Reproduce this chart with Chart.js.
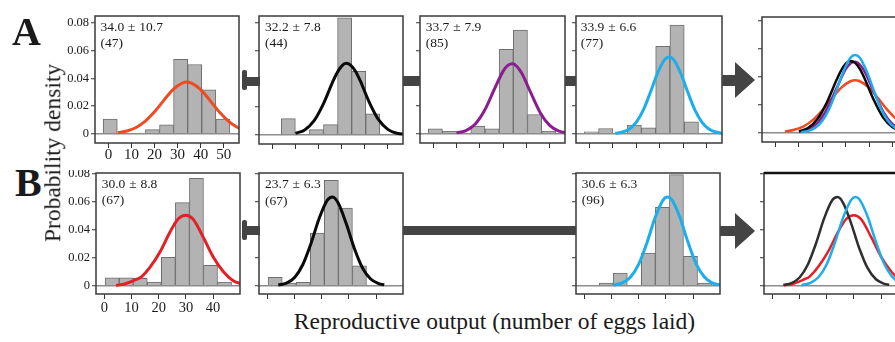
<!DOCTYPE html>
<html>
<head>
<meta charset="utf-8">
<script src="https://cdn.jsdelivr.net/npm/chart.js@4.4.1/dist/chart.umd.min.js"></script>
<style>
  html, body { margin: 0; padding: 0; background: #fff; }
  #fig { position: relative; width: 895px; height: 342px; overflow: hidden; font-family: 'Liberation Serif', serif; color: #1a1a1a; }
  .panel { position: absolute; }
  .stat { position: absolute; font-size: 13.5px; line-height: 16.5px; word-spacing: 0.5px; white-space: nowrap; }
  .conn { position: absolute; background: #444; }
  .cap { position: absolute; background: #444; border-radius: 2px; }
  .head { position: absolute; width: 0; height: 0; border-style: solid; border-color: transparent transparent transparent #444; }
  .letter { position: absolute; font-weight: bold; font-size: 40px; line-height: 40px; }
  .axtitle { position: absolute; font-size: 23.5px; line-height: 23.5px; white-space: nowrap; }
</style>
</head>
<body>
<div id="fig"></div>
<script>
// histogram bins (bin centres) and bar heights
const binCentersA = [0.8, 6.9, 13.0, 19.1, 25.2, 31.3, 37.4, 43.5, 49.6];
const histA1 = [0.0106, 0, 0, 0.0029, 0.0065, 0.0537, 0.0500, 0.0317, 0.0106];
const histA2 = [0, 0.0115, 0, 0.0036, 0.0072, 0.0836, 0.0454, 0.0150, 0];
const histA3 = [0.0036, 0.0017, 0, 0.0055, 0.0036, 0.0609, 0.0748, 0.0139, 0.0017];
const histA4 = [0.0014, 0.0038, 0, 0.0062, 0.0043, 0.0631, 0.0785, 0.0086, 0];

const binCentersB = [2.85, 8.02, 13.19, 18.36, 23.53, 28.70, 33.87, 39.04, 44.21];
const histB1 = [0.0057, 0.0057, 0.0052, 0.0026, 0.0202, 0.0593, 0.0767, 0.0145, 0.0026];
const histB2 = [0.0060, 0.0019, 0.0024, 0.0376, 0.0752, 0.0555, 0.0143, 0, 0];
const histB4 = [0, 0.0019, 0.0090, 0, 0.0233, 0.0560, 0.0793, 0.0210, 0.0019];

// fitted density curves
const curveA1X = [4, 8, 12, 16, 20, 24, 28, 32, 34, 36, 40, 44, 48, 52, 56, 60];
const curveA1Y = [0.0007, 0.0020, 0.0045, 0.0091, 0.0158, 0.0241, 0.0319, 0.0366, 0.0373, 0.0366, 0.0319, 0.0241, 0.0158, 0.0091, 0.0045, 0.0020];
const curveA2X = [10, 14, 18, 22, 26, 28, 30, 32, 34, 36, 38, 42, 46, 50, 54, 58];
const curveA2Y = [0.0009, 0.0034, 0.0098, 0.0217, 0.0373, 0.0442, 0.0491, 0.0511, 0.0497, 0.0454, 0.0388, 0.0232, 0.0107, 0.0038, 0.0010, 0.0002];
const curveA3X = [10, 14, 18, 22, 26, 30, 32, 34, 36, 38, 42, 46, 50, 54, 58];
const curveA3Y = [0.0006, 0.0023, 0.0070, 0.0169, 0.0314, 0.0452, 0.0493, 0.0505, 0.0484, 0.0436, 0.0291, 0.0150, 0.0060, 0.0019, 0.0005];
const curveA4X = [11, 14, 17, 20, 23, 26, 29, 32, 34, 36, 39, 42, 45, 48, 51, 54, 57];
const curveA4Y = [0.0003, 0.0012, 0.0034, 0.0084, 0.0172, 0.0299, 0.0435, 0.0533, 0.0554, 0.0533, 0.0435, 0.0299, 0.0172, 0.0084, 0.0034, 0.0012, 0.0003];

const curveB1X = [4.3, 8, 12, 13.5, 16.8, 20.5, 24.2, 27.2, 30, 32.7, 36.4, 40, 43.8, 47.4, 50, 53];
const curveB1Y = [0.0002, 0.0016, 0.0048, 0.0062, 0.0133, 0.0243, 0.0386, 0.0478, 0.0503, 0.0474, 0.0345, 0.0207, 0.0100, 0.0036, 0.0016, 0.0006];
const curveB2X = [4, 7, 10, 13, 16, 19, 22, 24, 26, 29, 32, 35, 38, 41, 43];
const curveB2Y = [0.0005, 0.0019, 0.0059, 0.0150, 0.0300, 0.0479, 0.0610, 0.0633, 0.0592, 0.0444, 0.0266, 0.0127, 0.0048, 0.0015, 0.0006];
const curveB4X = [10.7, 14, 17, 20, 23, 26, 29, 30.6, 32, 35, 38, 41, 44, 47, 50, 53];
const curveB4Y = [0.0004, 0.0020, 0.0062, 0.0154, 0.0306, 0.0485, 0.0613, 0.0633, 0.0618, 0.0496, 0.0318, 0.0162, 0.0066, 0.0021, 0.0006, 0.0002];

// tick values
const xTicksA = [0, 10, 20, 30, 40, 50];
const xTicksB = [0, 10, 20, 30, 40];
const yTicks = [0, 0.02, 0.04, 0.06, 0.08];

const fig = document.getElementById('fig');

const boxPlugin = {
    id: 'box',
    afterDraw(chart) {
        const a = chart.chartArea, ctx = chart.ctx;
        const o = chart.options.plugins.box || {};
        ctx.save();
        ctx.strokeStyle = '#3a3a3a';
        ctx.lineWidth = 1.5;
        ctx.strokeRect(a.left, a.top, a.right - a.left, a.bottom - a.top);
        if (o.topWidth) {
            ctx.lineWidth = o.topWidth;
            ctx.strokeStyle = '#111';
            ctx.beginPath();
            ctx.moveTo(a.left, a.top);
            ctx.lineTo(a.right, a.top);
            ctx.stroke();
        }
        ctx.restore();
    }
};

function makePanel(box, o) {
    const L = o.yLabels ? 40 : 8, B = o.xLabels ? 26 : 8, T = 3, R = 3;
    const wrap = document.createElement('div');
    wrap.className = 'panel';
    wrap.style.left = (box[0] - L) + 'px';
    wrap.style.top = (box[1] - T) + 'px';
    const cv = document.createElement('canvas');
    cv.width = box[2] + L + R;
    cv.height = box[3] + T + B;
    wrap.appendChild(cv);
    fig.appendChild(wrap);

    const datasets = [];
    o.curves.forEach((c, i) => {
        datasets.push({
            type: 'line',
            data: c.x.map((x, k) => ({ x: x, y: c.y[k] })),
            borderColor: c.color,
            borderWidth: c.w,
            pointRadius: 0,
            fill: false,
            cubicInterpolationMode: 'monotone',
            order: o.curves.length - i
        });
    });
    if (o.bars) {
        datasets.push({
            type: 'bar',
            data: o.bars.x.map((x, k) => ({ x: x, y: o.bars.y[k] })),
            backgroundColor: '#b3b3b3',
            borderColor: '#6e6e6e',
            borderWidth: 1,
            barPercentage: 1,
            categoryPercentage: 1,
            order: 10
        });
    }

    new Chart(cv, {
        type: 'line',
        data: { datasets: datasets },
        plugins: [boxPlugin],
        options: {
            responsive: false,
            animation: false,
            devicePixelRatio: 1,
            layout: { padding: { top: T, right: R, left: 0, bottom: 0 } },
            plugins: {
                legend: { display: false },
                tooltip: { enabled: false },
                box: { topWidth: o.topWidth || 0 }
            },
            scales: {
                x: {
                    type: 'linear', min: o.xMin, max: o.xMax, offset: false,
                    afterBuildTicks: s => { s.ticks = o.xTicks.map(v => ({ value: v })); },
                    afterFit: s => { s.height = B; s.paddingLeft = 0; s.paddingRight = 0; },
                    border: { display: false },
                    grid: { drawOnChartArea: false, offset: false, tickLength: 5, tickColor: '#333', tickWidth: 1 },
                    ticks: {
                        display: !!o.xLabels, autoSkip: false, maxRotation: 0, minRotation: 0,
                        padding: o.xPad || 0, color: '#1a1a1a',
                        font: { family: 'Liberation Serif', size: o.xFont || 15, lineHeight: 1 }
                    }
                },
                y: {
                    type: 'linear', min: o.yMin, max: o.yMax,
                    afterBuildTicks: s => { s.ticks = yTicks.map(v => ({ value: v })); },
                    afterFit: s => { s.width = L; s.paddingTop = 0; s.paddingBottom = 0; },
                    border: { display: false },
                    grid: {
                        color: c => (c.tick && c.tick.value === 0) ? '#8c8c8c' : 'rgba(0,0,0,0)',
                        lineWidth: 1.5,
                        tickLength: 4, tickColor: '#333', tickWidth: 1
                    },
                    ticks: {
                        display: !!o.yLabels, padding: 2, color: '#1a1a1a',
                        callback: v => v === 0 ? '0' : v.toFixed(2),
                        font: { family: 'Liberation Serif', size: 12.5 }
                    }
                }
            }
        }
    });
}

const rowA = { xMin: -5.8, xMax: 56.6, yMin: -0.0067, yMax: 0.085, xTicks: xTicksA };
const rowB = { xMin: -3.1, xMax: 49.9, yMin: -0.0059, yMax: 0.0805, xTicks: xTicksB };

const cOrange = '#ef4b23', cPurple = '#8c1d8f', cCyan = '#1caeea', cRed = '#e41f26';

makePanel([95, 16, 144, 127], Object.assign({}, rowA, {
    xLabels: true, yLabels: true, xPad: 0,
    bars: { x: binCentersA, y: histA1 },
    curves: [{ x: curveA1X, y: curveA1Y, color: cOrange, w: 3 }]
}));
makePanel([259, 16, 144, 128], Object.assign({}, rowA, {
    bars: { x: binCentersA, y: histA2 },
    curves: [{ x: curveA2X, y: curveA2Y, color: '#0a0a0a', w: 3 }]
}));
makePanel([420, 16, 145, 127], Object.assign({}, rowA, {
    bars: { x: binCentersA, y: histA3 },
    curves: [{ x: curveA3X, y: curveA3Y, color: cPurple, w: 3 }]
}));
makePanel([576, 16, 146, 127], Object.assign({}, rowA, {
    bars: { x: binCentersA, y: histA4 },
    curves: [{ x: curveA4X, y: curveA4Y, color: cCyan, w: 3 }]
}));
makePanel([762, 17, 146, 125], Object.assign({}, rowA, {
    yMin: -0.0067, yMax: 0.0824,
    curves: [
        { x: curveA1X, y: curveA1Y, color: cOrange, w: 2.5 },
        { x: curveA3X, y: curveA3Y, color: cPurple, w: 2.5 },
        { x: curveA2X, y: curveA2Y, color: '#0a0a0a', w: 2.5 },
        { x: curveA4X, y: curveA4Y, color: cCyan, w: 2.5 }
    ]
}));

makePanel([96, 173, 144, 121], Object.assign({}, rowB, {
    xLabels: true, yLabels: true, xPad: 2, xFont: 14.5,
    bars: { x: binCentersB, y: histB1 },
    curves: [{ x: curveB1X, y: curveB1Y, color: cRed, w: 3 }]
}));
makePanel([259, 173, 144, 121], Object.assign({}, rowB, {
    bars: { x: binCentersB, y: histB2 },
    curves: [{ x: curveB2X, y: curveB2Y, color: '#0a0a0a', w: 3 }]
}));
makePanel([576, 173, 144, 121], Object.assign({}, rowB, {
    bars: { x: binCentersB, y: histB4 },
    curves: [{ x: curveB4X, y: curveB4Y, color: cCyan, w: 3 }]
}));
makePanel([764, 173, 144, 121], Object.assign({}, rowB, {
    topWidth: 2.5,
    curves: [
        { x: curveB1X, y: curveB1Y, color: cRed, w: 2.5 },
        { x: curveB2X, y: curveB2Y, color: '#2e2e2e', w: 2.5 },
        { x: curveB4X, y: curveB4Y, color: cCyan, w: 2.5 }
    ]
}));

// connectors and arrows between panels
function addDiv(cls, css, html) {
    const d = document.createElement('div');
    d.className = cls;
    Object.assign(d.style, css);
    if (html) d.innerHTML = html;
    fig.appendChild(d);
    return d;
}
addDiv('cap', { left: '241.5px', top: '69.5px', width: '5px', height: '20px' });
addDiv('conn', { left: '246px', top: '76.5px', width: '13.5px', height: '9.5px' });
addDiv('conn', { left: '403px', top: '76px', width: '17px', height: '9.5px' });
addDiv('conn', { left: '565px', top: '76px', width: '11px', height: '9.5px' });
addDiv('conn', { left: '722px', top: '75px', width: '14px', height: '10.5px' });
addDiv('head', { left: '735px', top: '62px', borderWidth: '18px 0 18px 20px' });

addDiv('cap', { left: '241.5px', top: '220px', width: '5px', height: '20px' });
addDiv('conn', { left: '246px', top: '225.5px', width: '13.5px', height: '9.5px' });
addDiv('conn', { left: '403px', top: '225.5px', width: '173px', height: '9.5px' });
addDiv('conn', { left: '719.5px', top: '225.5px', width: '16px', height: '10px' });
addDiv('head', { left: '735px', top: '213px', borderWidth: '18px 0 18px 20px' });

// mean ± sd (n) labels
const statLabels = [
    ['34.0 ± 10.7', '(47)', 100.5, 18.8],
    ['32.2 ± 7.8', '(44)', 265, 18.8],
    ['33.7 ± 7.9', '(85)', 425.7, 18.8],
    ['33.9 ± 6.6', '(77)', 580.7, 18.8],
    ['30.0 ± 8.8', '(67)', 101.7, 175.5],
    ['23.7 ± 6.3', '(67)', 265, 176],
    ['30.6 ± 6.3', '(96)', 581.7, 175.5]
];
statLabels.forEach(s => {
    addDiv('stat', { left: s[2] + 'px', top: s[3] + 'px' }, s[0] + '<br>' + s[1]);
});

addDiv('letter', { left: '12px', top: '11.5px' }, 'A');
addDiv('letter', { left: '15px', top: '163px' }, 'B');
addDiv('axtitle', { left: '53px', top: '153.3px', transform: 'translate(-50%, -50%) rotate(-90deg)' }, 'Probability density');
addDiv('axtitle', { left: '494.5px', top: '322px', transform: 'translate(-50%, -50%)' }, 'Reproductive output (number of eggs laid)');
</script>
</body>
</html>
